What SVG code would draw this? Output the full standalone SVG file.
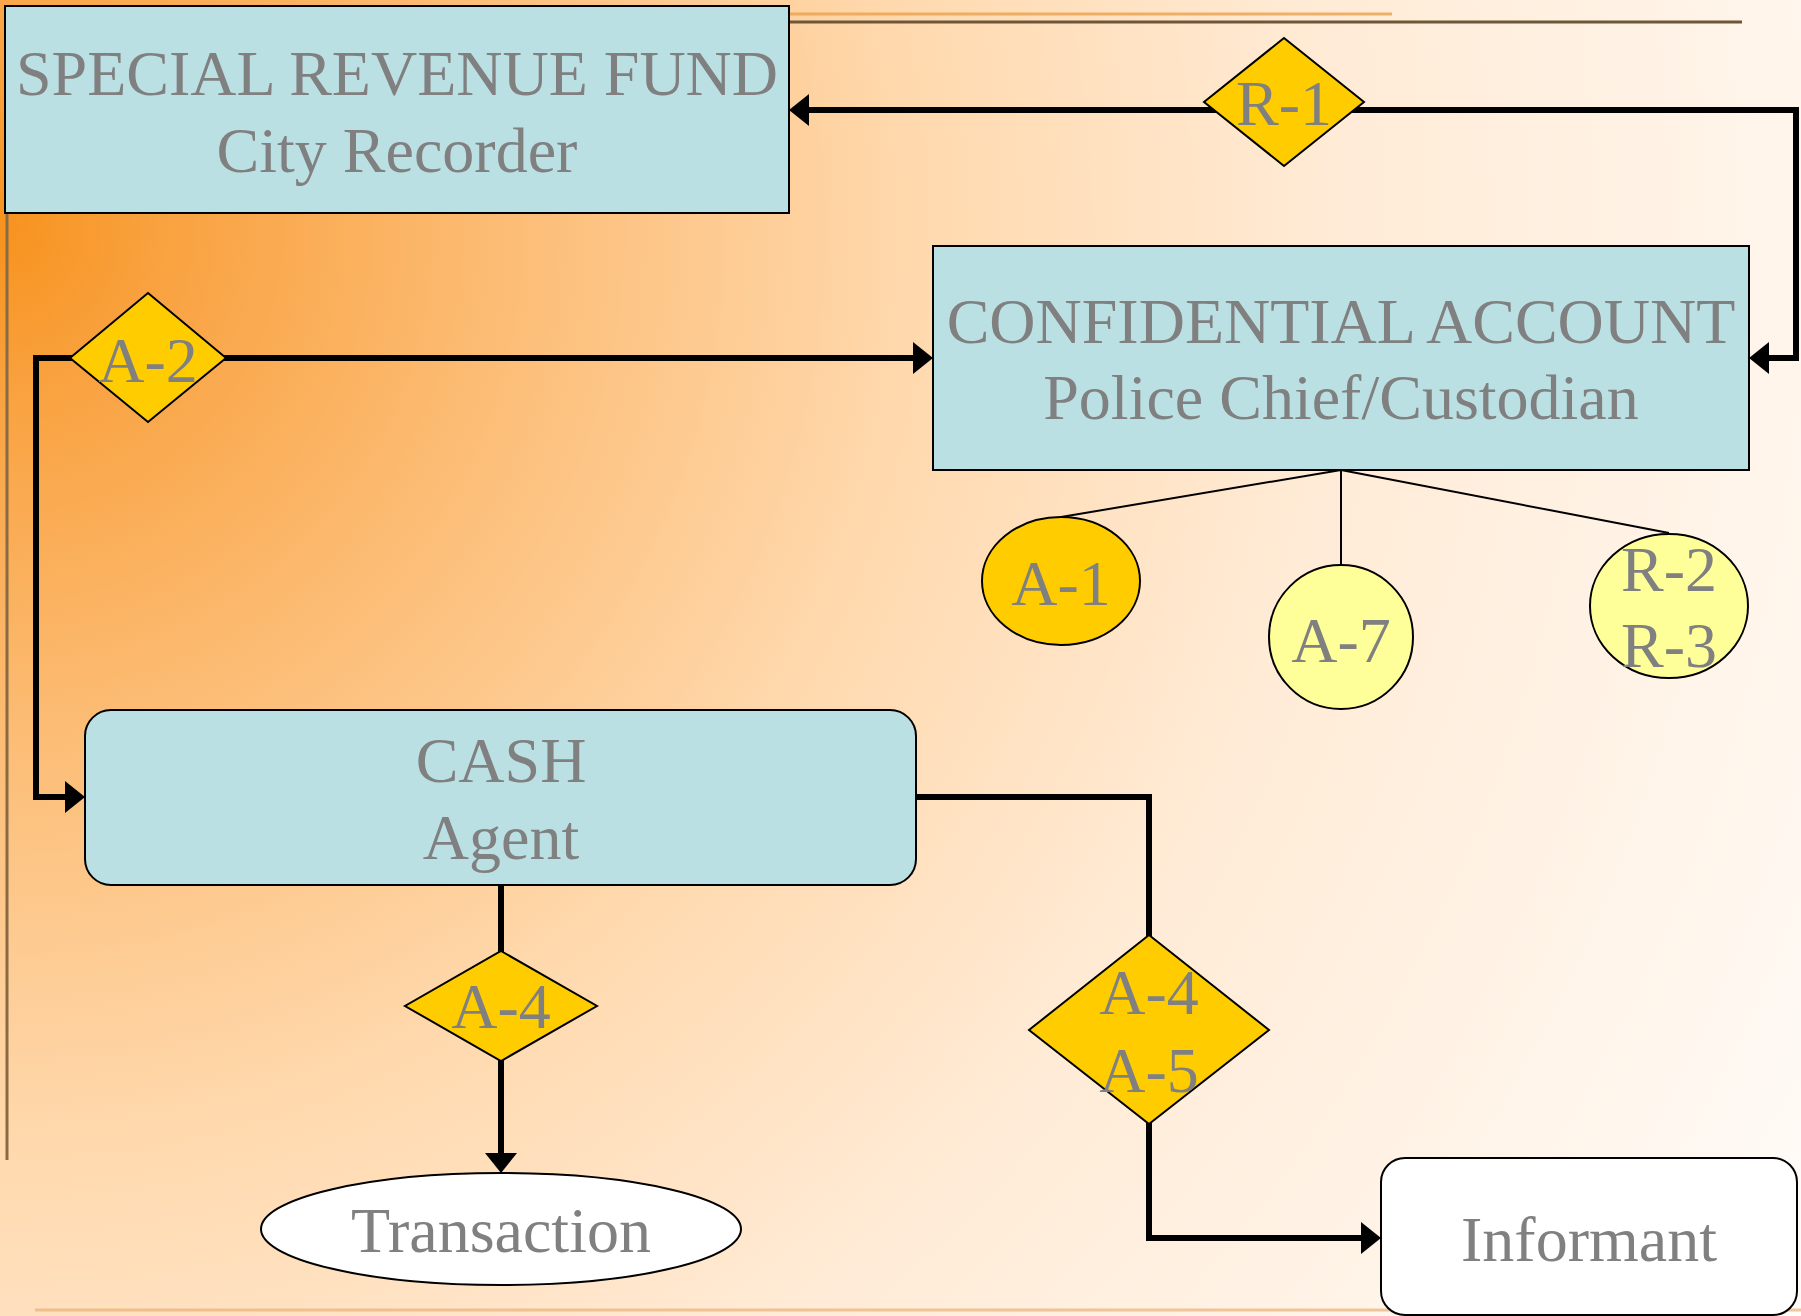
<svg xmlns="http://www.w3.org/2000/svg" width="1801" height="1316" viewBox="0 0 1801 1316">
<defs>
  <radialGradient id="bg" gradientUnits="userSpaceOnUse" cx="0" cy="230" r="2050">
    <stop offset="0" stop-color="#F7931E"/>
    <stop offset="0.08" stop-color="#F9A240"/>
    <stop offset="0.25" stop-color="#FCBD76"/>
    <stop offset="0.45" stop-color="#FFD9AE"/>
    <stop offset="0.65" stop-color="#FFEBD6"/>
    <stop offset="1" stop-color="#FFFBF7"/>
  </radialGradient>
  <marker id="arrow" markerUnits="userSpaceOnUse" markerWidth="20" markerHeight="32" refX="0" refY="16" orient="auto-start-reverse" overflow="visible">
    <path d="M0,0 L20,16 L0,32 Z" fill="#000"/>
  </marker>
</defs>
<style>
  .box { fill: #BBE0E3; stroke: #000; stroke-width: 2; }
  .dia { fill: #FFCC00; stroke: #000; stroke-width: 2; }
  .gold { fill: #FFCC00; stroke: #000; stroke-width: 2; }
  .pale { fill: #FFFF99; stroke: #000; stroke-width: 2; }
  .white { fill: #FFFFFF; stroke: #000; stroke-width: 2; }
  .t { font-family: "Liberation Serif", "Times New Roman", serif; font-size: 64px; fill: #808080; text-anchor: middle; }
  .conn { fill: none; stroke: #000; stroke-width: 6; stroke-linejoin: miter; }
  .thin { fill: none; stroke: #000; stroke-width: 2; }
</style>

<rect x="0" y="0" width="1801" height="1316" fill="url(#bg)"/>
<g id="decor">
  <line x1="790" y1="14" x2="1392" y2="14" stroke="#E9A24E" stroke-width="3" opacity="0.8"/>
  <line x1="790" y1="22" x2="1742" y2="22" stroke="#6E5638" stroke-width="3"/>
  <line x1="7" y1="25" x2="7" y2="1160" stroke="#8A6A42" stroke-width="3"/>
  <line x1="35" y1="1310" x2="1801" y2="1310" stroke="#E8B27A" stroke-width="3" opacity="0.7"/>
</g>

<g id="connectors">
  <path class="conn" d="M809,110 L1796,110 L1796,358 L1769,358" marker-start="url(#arrow)" marker-end="url(#arrow)"/>
  <path class="conn" d="M913,358 L36,358 L36,797 L65,797" marker-start="url(#arrow)" marker-end="url(#arrow)"/>
  <path class="conn" d="M501,885 L501,1153" marker-end="url(#arrow)"/>
  <path class="conn" d="M916,797 L1149,797 L1149,1238 L1361,1238" marker-end="url(#arrow)"/>
  <path class="thin" d="M1341,470 L1061,517"/>
  <path class="thin" d="M1341,470 L1341,565"/>
  <path class="thin" d="M1341,470 L1669,533"/>
</g>

<g id="special-revenue-fund">
  <rect class="box" x="5" y="6" width="784" height="207"/>
  <text class="t" x="397" y="95">SPECIAL REVENUE FUND</text>
  <text class="t" x="397" y="172">City Recorder</text>
</g>

<g id="r1">
  <polygon class="dia" points="1284,38 1364,102 1284,166 1204,102"/>
  <text class="t" x="1284" y="125">R-1</text>
</g>

<g id="confidential-account">
  <rect class="box" x="933" y="246" width="816" height="224"/>
  <text class="t" x="1341" y="343">CONFIDENTIAL ACCOUNT</text>
  <text class="t" x="1341" y="419">Police Chief/Custodian</text>
</g>

<g id="a2">
  <polygon class="dia" points="148,293 226,358 148,422 70,358"/>
  <text class="t" x="148" y="382">A-2</text>
</g>

<g id="a1">
  <ellipse class="gold" cx="1061" cy="581" rx="79" ry="64"/>
  <text class="t" x="1061" y="605">A-1</text>
</g>

<g id="a7">
  <ellipse class="pale" cx="1341" cy="637" rx="72" ry="72"/>
  <text class="t" x="1341" y="662">A-7</text>
</g>

<g id="r2-r3">
  <ellipse class="pale" cx="1669" cy="606" rx="79" ry="72"/>
  <text class="t" x="1669" y="591">R-2</text>
  <text class="t" x="1669" y="667">R-3</text>
</g>

<g id="cash">
  <rect class="box" x="85" y="710" width="831" height="175" rx="26" ry="26"/>
  <text class="t" x="501" y="782">CASH</text>
  <text class="t" x="501" y="859">Agent</text>
</g>

<g id="a4">
  <polygon class="dia" points="501,951 597,1006 501,1061 405,1006"/>
  <text class="t" x="501" y="1028">A-4</text>
</g>

<g id="a4-a5">
  <polygon class="dia" points="1149,935 1269,1030 1149,1124 1029,1030"/>
  <text class="t" x="1149" y="1014">A-4</text>
  <text class="t" x="1149" y="1092">A-5</text>
</g>

<g id="transaction">
  <ellipse class="white" cx="501" cy="1229" rx="240" ry="56"/>
  <text class="t" x="501" y="1252">Transaction</text>
</g>

<g id="informant">
  <rect class="white" x="1381" y="1158" width="416" height="157" rx="24" ry="24"/>
  <text class="t" x="1589" y="1261">Informant</text>
</g>
</svg>
